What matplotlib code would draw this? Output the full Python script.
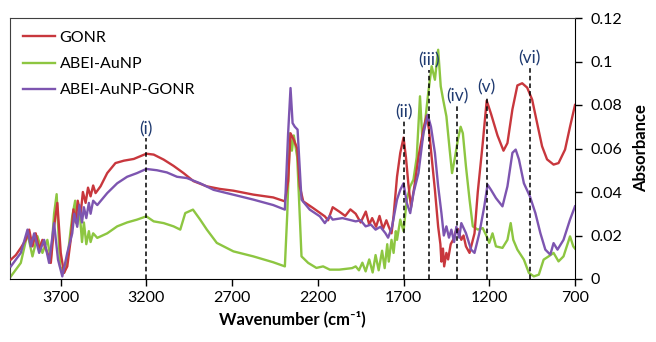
import numpy as np
import matplotlib.pyplot as plt
from matplotlib.ticker import FixedLocator, FixedFormatter

plt.rcParams['font.family'] = ['Lato', 'DejaVu Sans']

# --- datos (numero de onda cm-1, absorbancia) ---
gonr_wn = [3990, 3961, 3932, 3903, 3883, 3864, 3845, 3825, 3806, 3777, 3757, 3738, 3719, 3699,
           3680, 3661, 3641, 3625, 3612, 3600, 3583, 3570, 3554, 3540, 3525, 3510, 3496, 3467,
           3428, 3380, 3331, 3273, 3200, 3157, 3099, 3041, 2983, 2925, 2847, 2770, 2692, 2576,
           2460, 2392, 2373, 2359, 2340, 2320, 2305, 2285, 2227, 2159, 2140, 2113, 2075, 2040,
           2010, 1979, 1950, 1920, 1900, 1883, 1860, 1840, 1820, 1800, 1786, 1770, 1758, 1738,
           1719, 1700, 1686, 1671, 1656, 1636, 1613, 1584, 1565, 1552, 1536, 1517, 1498, 1485,
           1479, 1470, 1463, 1450, 1440, 1425, 1411, 1395, 1383, 1363, 1350, 1336, 1315, 1286,
           1267, 1238, 1215, 1190, 1152, 1117, 1094, 1065, 1036, 1008, 979, 950, 921, 892, 863,
           825, 796, 758, 729, 700]
gonr_abs = [0.0089, 0.011, 0.0143, 0.018, 0.0227, 0.015, 0.021, 0.0135, 0.018, 0.012, 0.0074,
            0.024, 0.035, 0.012, 0.0028, 0.0058, 0.018, 0.032, 0.026, 0.036, 0.030, 0.040, 0.035,
            0.042, 0.038, 0.043, 0.0395, 0.0426, 0.0487, 0.0533, 0.0544, 0.0552, 0.0576, 0.0572,
            0.0549, 0.052, 0.0487, 0.045, 0.0426, 0.0414, 0.0406, 0.0388, 0.0375, 0.0357, 0.045,
            0.067, 0.064, 0.060, 0.0426, 0.0357, 0.0326, 0.0288, 0.027, 0.033, 0.031, 0.029,
            0.032, 0.030, 0.026, 0.031, 0.025, 0.028, 0.024, 0.029, 0.023, 0.027, 0.024, 0.021,
            0.029, 0.047, 0.058, 0.065, 0.056, 0.043, 0.033, 0.043, 0.056, 0.069, 0.075, 0.069,
            0.056, 0.041, 0.024, 0.016, 0.008, 0.014, 0.0058, 0.012, 0.009, 0.016, 0.018, 0.022,
            0.023, 0.018, 0.020, 0.015, 0.012, 0.021, 0.040, 0.0625, 0.082, 0.076, 0.066, 0.059,
            0.0625, 0.078, 0.089, 0.090, 0.088, 0.0825, 0.0717, 0.061, 0.055, 0.0526, 0.0533,
            0.0595, 0.070, 0.080]

aunp_wn = [3990, 3932, 3893, 3864, 3835, 3806, 3777, 3757, 3738, 3723, 3703, 3680, 3661, 3632,
           3615, 3603, 3590, 3575, 3564, 3550, 3535, 3525, 3510, 3486, 3428, 3370, 3312, 3254,
           3200, 3157, 3099, 3041, 3002, 2973, 2928, 2886, 2847, 2789, 2692, 2576, 2460, 2392,
           2378, 2363, 2351, 2340, 2320, 2295, 2256, 2208, 2169, 2130, 2075, 2000, 1979, 1960,
           1940, 1921, 1900, 1880, 1863, 1845, 1825, 1810, 1795, 1786, 1770, 1758, 1745, 1738,
           1719, 1700, 1681, 1661, 1642, 1623, 1604, 1590, 1575, 1556, 1536, 1517, 1498, 1483,
           1469, 1450, 1431, 1417, 1402, 1383, 1367, 1354, 1336, 1315, 1296, 1267, 1238, 1215,
           1200, 1181, 1161, 1123, 1094, 1075, 1060, 1036, 998, 969, 940, 911, 883, 854, 825,
           796, 767, 729, 710, 700]
aunp_abs = [0.0012, 0.0074, 0.021, 0.0104, 0.0197, 0.012, 0.018, 0.0089, 0.030, 0.039, 0.0058,
            0.0028, 0.0089, 0.0288, 0.036, 0.025, 0.032, 0.017, 0.026, 0.016, 0.022, 0.017, 0.021,
            0.0189, 0.021, 0.0242, 0.026, 0.0273, 0.0288, 0.0265, 0.0257, 0.0242, 0.0227, 0.0303,
            0.0319, 0.0273, 0.0227, 0.0166, 0.0127, 0.0104, 0.0077, 0.0058, 0.030, 0.067, 0.059,
            0.066, 0.056, 0.0104, 0.0074, 0.0051, 0.0058, 0.0043, 0.0043, 0.005, 0.0058, 0.004,
            0.0075, 0.0035, 0.009, 0.003, 0.011, 0.004, 0.013, 0.005, 0.016, 0.008, 0.018, 0.012,
            0.022, 0.018, 0.0273, 0.022, 0.0365, 0.0426, 0.0457, 0.056, 0.084, 0.064, 0.0717,
            0.0855, 0.0978, 0.0916, 0.1054, 0.0886, 0.0825, 0.0748, 0.0595, 0.0487, 0.055, 0.064,
            0.070, 0.067, 0.0518, 0.0365, 0.0242, 0.0227, 0.0234, 0.0196, 0.0166, 0.021, 0.015,
            0.0143, 0.018, 0.0257, 0.018, 0.0135, 0.0089, 0.0028, 0.0012, 0.002, 0.0089, 0.0104,
            0.012, 0.0081, 0.0104, 0.0196, 0.015, 0.014]

mix_wn = [3990, 3932, 3893, 3874, 3854, 3825, 3796, 3767, 3738, 3715, 3690, 3661, 3632, 3620,
          3603, 3590, 3575, 3564, 3550, 3535, 3525, 3510, 3486, 3428, 3370, 3312, 3254, 3200,
          3138, 3080, 3021, 2963, 2886, 2808, 2731, 2653, 2576, 2460, 2392, 2373, 2359, 2347,
          2334, 2318, 2295, 2247, 2188, 2159, 2130, 2113, 2056, 1979, 1950, 1921, 1890, 1863,
          1835, 1806, 1790, 1767, 1738, 1719, 1700, 1681, 1661, 1642, 1613, 1584, 1559, 1540,
          1517, 1498, 1479, 1465, 1450, 1435, 1421, 1405, 1392, 1375, 1363, 1336, 1306, 1286,
          1258, 1229, 1210, 1190, 1161, 1123, 1094, 1065, 1046, 1027, 998, 963, 931, 902, 873,
          844, 825, 802, 767, 729, 700]
mix_abs = [0.0058, 0.012, 0.0227, 0.015, 0.021, 0.012, 0.018, 0.0074, 0.0257, 0.0089, 0.0012,
           0.012, 0.021, 0.030, 0.024, 0.034, 0.026, 0.033, 0.028, 0.035, 0.030, 0.036, 0.034,
           0.0395, 0.044, 0.047, 0.0487, 0.0506, 0.050, 0.049, 0.047, 0.0464, 0.044, 0.041,
           0.0395, 0.038, 0.0365, 0.034, 0.0319, 0.067, 0.0878, 0.0717, 0.070, 0.0687, 0.0365,
           0.0319, 0.0288, 0.0257, 0.029, 0.0273, 0.028, 0.0265, 0.027, 0.0242, 0.025, 0.0227,
           0.024, 0.0211, 0.019, 0.024, 0.0365, 0.041, 0.044, 0.035, 0.0303, 0.0395, 0.0487,
           0.067, 0.0755, 0.070, 0.058, 0.0426, 0.0303, 0.020, 0.0242, 0.019, 0.0227, 0.017,
           0.024, 0.019, 0.0257, 0.0211, 0.0135, 0.012, 0.021, 0.0334, 0.0434, 0.041, 0.0372,
           0.0334, 0.0426, 0.058, 0.0595, 0.055, 0.044, 0.038, 0.0303, 0.0211, 0.0135, 0.0112,
           0.0165, 0.0135, 0.018, 0.0273, 0.0334]

# bandas marcadas: posicion, altura de la linea, etiqueta
bandas_wn = [3200, 1700, 1550, 1386, 1215, 963]
bandas_alto = [0.0648, 0.0725, 0.0962, 0.0797, 0.084, 0.097]
bandas_txt = ['(i)', '(ii)', '(iii)', '(iv)', '(v)', '(vi)']

fig = plt.figure(figsize=(6.56, 3.42), dpi=100)
ax = fig.add_axes([10/656, 63/342, 565/656, 261/342])

ax.plot(aunp_wn, aunp_abs, color='#8DC641', lw=1.7, label='ABEI-AuNP', zorder=2)
ax.plot(gonr_wn, gonr_abs, color='#C8373D', lw=1.7, label='GONR', zorder=3)
ax.plot(mix_wn, mix_abs, color='#7D55B0', lw=1.7, label='ABEI-AuNP-GONR', zorder=4)

for wn, h, t in zip(bandas_wn, bandas_alto, bandas_txt):
    ax.vlines(wn, 0, h, colors='black', linestyles=(0, (3, 2)), lw=1.1, zorder=5)
    ax.text(wn, h + 0.0005, t, ha='center', va='bottom', color='#1F3A70', fontsize=12.5)

ax.set_xlim(3995, 700)
ax.set_ylim(0, 0.12)

ax.xaxis.set_major_locator(FixedLocator([3700, 3200, 2700, 2200, 1700, 1200, 700]))
ax.yaxis.tick_right()
ax.yaxis.set_label_position('right')
ax.yaxis.set_major_locator(FixedLocator([0, 0.02, 0.04, 0.06, 0.08, 0.1, 0.12]))
ax.yaxis.set_major_formatter(FixedFormatter(['0', '0.02', '0.04', '0.06', '0.08', '0.1', '0.12']))
ax.tick_params(axis='both', direction='out', length=5, width=1, labelsize=11.5)
ax.tick_params(axis='y', pad=6)

ax.set_xlabel('Wavenumber (cm\u207b\u00b9)', fontsize=12, fontweight='bold', labelpad=4)
ax.set_ylabel('Absorbance', fontsize=12, fontweight='bold', labelpad=8)

for s in ax.spines.values():
    s.set_color('#404040')
ax.spines['right'].set_color('black')
ax.spines['bottom'].set_color('black')

h, l = ax.get_legend_handles_labels()
orden = [1, 0, 2]
ax.legend([h[i] for i in orden], [l[i] for i in orden], loc='upper left', frameon=False,
          fontsize=11.5, handlelength=2.0, handletextpad=0.3, labelspacing=0.75,
          bbox_to_anchor=(0.0, 1.0), borderaxespad=0.4)

fig.savefig('out.png', dpi=100)
